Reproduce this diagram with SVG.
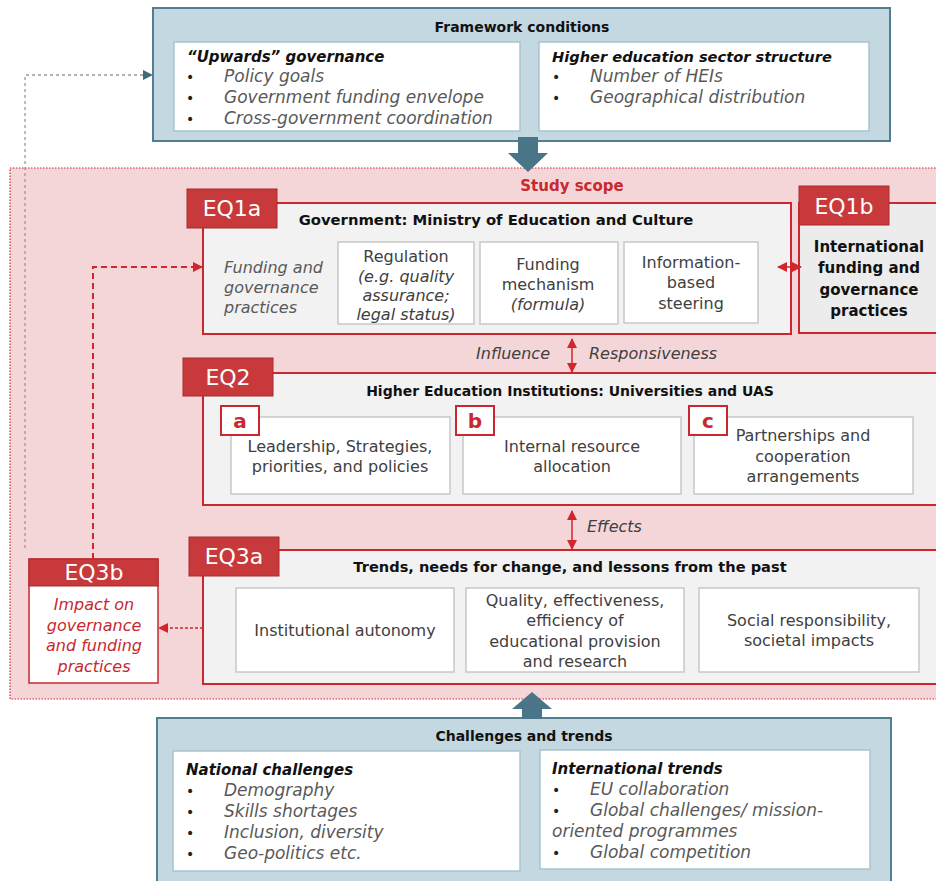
<svg xmlns="http://www.w3.org/2000/svg" width="936" height="881" viewBox="0 0 936 881">
<defs>
<style>
text{font-family:"DejaVu Sans","Liberation Sans",sans-serif}
.blue{fill:#c3d8e1;stroke:#4f7f91;stroke-width:2}
.wbox{fill:#fff;stroke:#a9c4d0;stroke-width:1.5}
.main{fill:#f2f2f2;stroke:#c8282e;stroke-width:2}
.tab{fill:#c8393c;stroke:#a82a2e;stroke-width:1}
.tabt{fill:#fff;font-size:22px;text-anchor:middle}
.sub{fill:#fff;stroke:#c8c8c8;stroke-width:1.5}
.t{fill:#404040;font-size:16px;text-anchor:middle}
.ti{fill:#404040;font-size:16px;text-anchor:middle;font-style:italic}
.h{fill:#111;font-size:14px;font-weight:bold;text-anchor:middle}
.hi{fill:#111;font-size:15px;font-weight:bold;font-style:italic}
.bl{fill:#595959;font-size:17px;font-style:italic}
.bu{fill:#222;font-size:14px}
.lt{fill:#fff;stroke:#c8282e;stroke-width:2}
.ltt{fill:#c8282e;font-size:20px;font-weight:bold;text-anchor:middle}
.ri{fill:#c8282e;font-size:16px;font-style:italic;text-anchor:middle}
</style>
<marker id="mt" markerWidth="10" markerHeight="10" refX="9" refY="5" orient="auto" markerUnits="userSpaceOnUse"><path d="M0,0 L10,5 L0,10 Z" fill="#3f6b7e"/></marker>
<marker id="mr" markerWidth="10" markerHeight="10" refX="9" refY="5" orient="auto" markerUnits="userSpaceOnUse"><path d="M0,0 L10,5 L0,10 Z" fill="#d0262c"/></marker>
<marker id="mr2" markerWidth="10" markerHeight="10" refX="9" refY="5" orient="auto-start-reverse" markerUnits="userSpaceOnUse"><path d="M0,0 L10,5 L0,10 Z" fill="#d0262c"/></marker>
</defs>
<rect width="936" height="881" fill="#fff"/>

<g id="study-scope">
<rect x="10" y="168" width="930" height="531" fill="#f4d6d8" stroke="#d0262c" stroke-width="1.2" stroke-dasharray="1.5,1.5"/>
<text x="572" y="191" style="fill:#c8282e;font-size:15px;font-weight:bold;text-anchor:middle">Study scope</text>
</g>

<g id="framework">
<rect class="blue" x="153" y="8" width="737" height="133"/>
<text class="h" x="522" y="32">Framework conditions</text>
<rect class="wbox" x="174" y="42" width="346" height="89"/>
<text class="hi" x="187" y="62">“Upwards” governance</text>
<text class="bu" x="186" y="82">•</text><text class="bl" x="224" y="82">Policy goals</text>
<text class="bu" x="186" y="103">•</text><text class="bl" x="224" y="103">Government funding envelope</text>
<text class="bu" x="186" y="124">•</text><text class="bl" x="224" y="124">Cross-government coordination</text>
<rect class="wbox" x="539" y="42" width="330" height="89"/>
<text class="hi" x="552" y="62" style="font-size:14.6px">Higher education sector structure</text>
<text class="bu" x="552" y="82">•</text><text class="bl" x="590" y="82">Number of HEIs</text>
<text class="bu" x="552" y="103">•</text><text class="bl" x="590" y="103">Geographical distribution</text>
</g>

<g id="arrow-down">
<path d="M518,137 L538,137 L538,153 L548,153 L528,172 L508,153 L518,153 Z" fill="#4a7588"/>
</g>

<g id="eq1a">
<rect class="main" x="203" y="203" width="588" height="131"/>
<rect class="tab" x="187" y="189" width="90" height="39"/>
<text class="tabt" x="232" y="216">EQ1a</text>
<text class="h" x="496" y="225" style="font-size:14.8px">Government: Ministry of Education and Culture</text>
<text class="bl" x="224" y="273" style="font-size:16px">Funding and</text>
<text class="bl" x="224" y="293" style="font-size:16px">governance</text>
<text class="bl" x="224" y="313" style="font-size:16px">practices</text>
<rect class="sub" x="338" y="242" width="136" height="82"/>
<text class="t" x="406" y="262">Regulation</text>
<text class="ti" x="406" y="282">(e.g. quality</text>
<text class="ti" x="406" y="301">assurance;</text>
<text class="ti" x="406" y="320">legal status)</text>
<rect class="sub" x="480" y="242" width="138" height="82"/>
<text class="t" x="548" y="270">Funding</text>
<text class="t" x="548" y="290">mechanism</text>
<text class="ti" x="548" y="310">(formula)</text>
<rect class="sub" x="624" y="242" width="134" height="81"/>
<text class="t" x="691" y="268">Information-</text>
<text class="t" x="691" y="288">based</text>
<text class="t" x="691" y="309">steering</text>
</g>

<g id="eq1b">
<rect x="799" y="203" width="142" height="130" fill="#ececec" stroke="#c8282e" stroke-width="2"/>
<rect class="tab" x="799" y="186" width="90" height="39"/>
<text class="tabt" x="844" y="214">EQ1b</text>
<text class="h" x="869" y="252" style="font-size:15px">International</text>
<text class="h" x="869" y="273" style="font-size:15px">funding and</text>
<text class="h" x="869" y="295" style="font-size:15px">governance</text>
<text class="h" x="869" y="316" style="font-size:15px">practices</text>
</g>

<g id="eq2">
<rect class="main" x="203" y="373" width="738" height="132"/>
<rect class="tab" x="183" y="358" width="90" height="38"/>
<text class="tabt" x="228" y="385">EQ2</text>
<text class="h" x="570" y="396">Higher Education Institutions: Universities and UAS</text>
<rect class="sub" x="231" y="417" width="219" height="77"/>
<rect class="lt" x="221" y="406" width="38" height="29"/>
<text class="ltt" x="240" y="428">a</text>
<text class="t" x="340" y="452">Leadership, Strategies,</text>
<text class="t" x="340" y="472">priorities, and policies</text>
<rect class="sub" x="463" y="417" width="218" height="77"/>
<rect class="lt" x="456" y="406" width="38" height="29"/>
<text class="ltt" x="475" y="428">b</text>
<text class="t" x="572" y="452">Internal resource</text>
<text class="t" x="572" y="472">allocation</text>
<rect class="sub" x="694" y="417" width="219" height="77"/>
<rect class="lt" x="689" y="406" width="38" height="29"/>
<text class="ltt" x="708" y="428">c</text>
<text class="t" x="803" y="441">Partnerships and</text>
<text class="t" x="803" y="462">cooperation</text>
<text class="t" x="803" y="482">arrangements</text>
</g>

<g id="eq3a">
<rect class="main" x="203" y="550" width="738" height="134"/>
<rect class="tab" x="189" y="537" width="90" height="39"/>
<text class="tabt" x="234" y="564">EQ3a</text>
<text class="h" x="570" y="572" style="font-size:14.6px">Trends, needs for change, and lessons from the past</text>
<rect class="sub" x="236" y="588" width="218" height="84"/>
<text class="t" x="345" y="636">Institutional autonomy</text>
<rect class="sub" x="466" y="588" width="218" height="84"/>
<text class="t" x="575" y="606">Quality, effectiveness,</text>
<text class="t" x="575" y="626">efficiency of</text>
<text class="t" x="575" y="647">educational provision</text>
<text class="t" x="575" y="667">and research</text>
<rect class="sub" x="699" y="588" width="220" height="84"/>
<text class="t" x="809" y="626">Social responsibility,</text>
<text class="t" x="809" y="646">societal impacts</text>
</g>

<g id="eq3b">
<rect x="29" y="559" width="129" height="124" fill="#fff" stroke="#c8282e" stroke-width="1.5"/>
<rect x="29" y="559" width="129" height="27" fill="#c8393c" stroke="#a82a2e" stroke-width="1"/>
<text class="tabt" x="94" y="580">EQ3b</text>
<text class="ri" x="94" y="610">Impact on</text>
<text class="ri" x="94" y="631">governance</text>
<text class="ri" x="94" y="651">and funding</text>
<text class="ri" x="94" y="672">practices</text>
</g>

<g id="challenges">
<rect class="blue" x="157" y="718" width="734" height="170"/>
<text class="h" x="524" y="741">Challenges and trends</text>
<rect class="wbox" x="173" y="751" width="347" height="120"/>
<text class="hi" x="186" y="775">National challenges</text>
<text class="bu" x="186" y="796">•</text><text class="bl" x="224" y="796">Demography</text>
<text class="bu" x="186" y="817">•</text><text class="bl" x="224" y="817">Skills shortages</text>
<text class="bu" x="186" y="838">•</text><text class="bl" x="224" y="838">Inclusion, diversity</text>
<text class="bu" x="186" y="859">•</text><text class="bl" x="224" y="859">Geo-politics etc.</text>
<rect class="wbox" x="540" y="750" width="330" height="119"/>
<text class="hi" x="552" y="774">International trends</text>
<text class="bu" x="552" y="795">•</text><text class="bl" x="590" y="795">EU collaboration</text>
<text class="bu" x="552" y="816">•</text><text class="bl" x="590" y="816">Global challenges/ mission-</text>
<text class="bl" x="552" y="837">oriented programmes</text>
<text class="bu" x="552" y="858">•</text><text class="bl" x="590" y="858">Global competition</text>
</g>

<g id="arrow-up">
<path d="M522,719 L542,719 L542,709 L552,709 L532,692 L512,709 L522,709 Z" fill="#4a7588"/>
</g>

<g id="connectors">
<polyline points="25,548 25,75 152,75" fill="none" stroke="#999" stroke-width="1.3" stroke-dasharray="3,3" marker-end="url(#mt)"/>
<polyline points="93,559 93,267 202,267" fill="none" stroke="#d0262c" stroke-width="2" stroke-dasharray="6,4" marker-end="url(#mr)"/>
<line x1="203" y1="628" x2="159" y2="628" stroke="#d0262c" stroke-width="1.5" stroke-dasharray="3,2" marker-end="url(#mr)"/>
<line x1="778" y1="267" x2="801" y2="267" stroke="#d0262c" stroke-width="1.5" marker-start="url(#mr2)" marker-end="url(#mr2)"/>
<line x1="572" y1="339" x2="572" y2="372" stroke="#d0262c" stroke-width="1.5" marker-start="url(#mr2)" marker-end="url(#mr2)"/>
<line x1="572" y1="511" x2="572" y2="549" stroke="#d0262c" stroke-width="1.5" marker-start="url(#mr2)" marker-end="url(#mr2)"/>
<text x="550" y="359" style="fill:#404040;font-size:16px;font-style:italic;text-anchor:end">Influence</text>
<text x="589" y="359" style="fill:#404040;font-size:16px;font-style:italic">Responsiveness</text>
<text x="587" y="532" style="fill:#404040;font-size:16px;font-style:italic">Effects</text>
</g>
</svg>
